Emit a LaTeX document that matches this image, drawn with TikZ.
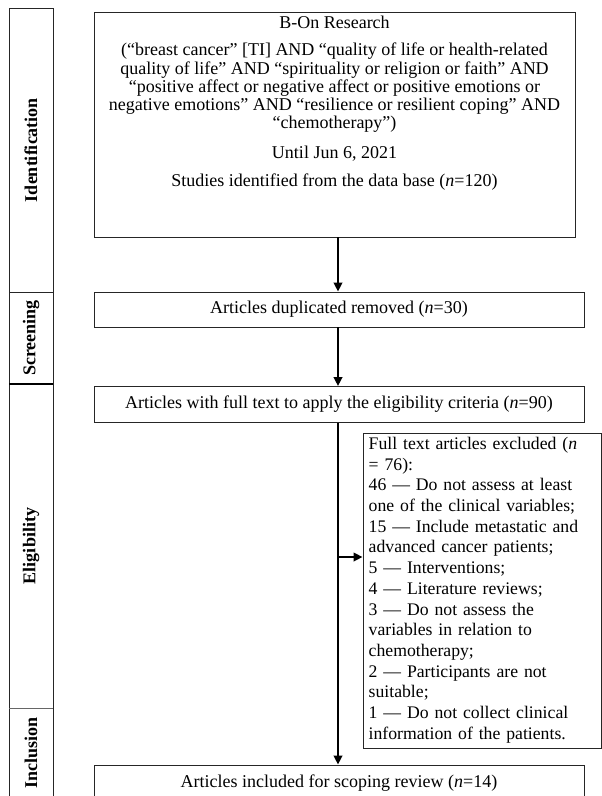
\documentclass[tikz,border=0pt]{standalone}
\usepackage{fontspec}
\setmainfont{Liberation Serif}
\usetikzlibrary{arrows.meta}
\begin{document}
\begin{tikzpicture}[x=1pt,y=-1pt,
  box/.style={draw=black!85, line width=0.9pt, inner sep=0pt},
  flow/.style={line width=2.4pt, -{Triangle[length=9pt,width=8.5pt]}},
  phase/.style={rotate=90, inner sep=0pt, font=\fontsize{18}{19}\selectfont\bfseries},
  txt/.style={inner sep=0pt, font=\fontsize{18}{18.3}\selectfont},
  extxt/.style={inner sep=0pt, anchor=north west, text width=236pt, align=left, font=\fontsize{17.7}{20.7}\selectfont},
]
\useasboundingbox (0,0) rectangle (602,796);
\clip (0,0) rectangle (602,796);
% phase column
\draw[draw=black!85, line width=0.9pt] (9,8) rectangle (53,820);
\draw[black!85, line width=0.9pt] (9,292) -- (53,292);
\draw[black, line width=1.8pt] (9,384) -- (53,384);
\draw[black!60, line width=0.9pt] (9,708) -- (53,708);
\node[phase] (pid) at (31,150) {Identification};
\node[phase] (psc) at (31,338) {Screening};
\node[phase] (pel) at (31,546) {Eligibility};
\node[phase] (pin) at (31,753) {Inclusion};
% boxes
\node[box, minimum width=481pt, minimum height=225pt] (search) at (334.5,124.5) {};
\node[txt] (t1) at (334.5,22) {B-On Research};
\node[txt, align=center] (t2) at (334.5,88) {(“breast cancer” [TI] AND “quality of life or health-related\\
quality of life” AND “spirituality or religion or faith” AND\\
“positive affect or negative affect or positive emotions or\\
negative emotions” AND “resilience or resilient coping” AND\\
“chemotherapy”)};
\node[txt] (t3) at (334.5,154) {Until Jun 6, 2021};
\node[txt] (t4) at (334.5,182) {Studies identified from the data base (\textit{n}=120)};
\node[box, minimum width=490pt, minimum height=35pt, font=\fontsize{18}{18.3}\selectfont] (dup) at (339,309.5) {Articles duplicated removed (\textit{n}=30)};
\node[box, minimum width=490pt, minimum height=36pt, font=\fontsize{18}{18.3}\selectfont] (full) at (339,404.5) {Articles with full text to apply the eligibility criteria (\textit{n}=90)};
\node[box, minimum width=238pt, minimum height=315pt] (excl) at (482,590.5) {};
\node[extxt] (et) at (368.5,437) {Full text articles excluded (\textit{n}\\
= 76):\\
46 — Do not assess at least\\
one of the clinical variables;\\
15 — Include metastatic and\\
advanced cancer patients;\\
5 — Interventions;\\
4 — Literature reviews;\\
3 — Do not assess the\\
variables in relation to\\
chemotherapy;\\
2 — Participants are not\\
suitable;\\
1 — Do not collect clinical\\
information of the patients.};
\node[box, minimum width=490pt, minimum height=36pt, font=\fontsize{18}{18.3}\selectfont] (incl) at (339,783) {Articles included for scoping review (\textit{n}=14)};
% connectors
\coordinate (ax) at (338,0);
\coordinate (br) at (338,557);
\draw[flow] (search.south -| ax) -- (dup.north -| ax);
\draw[flow] (dup.south -| ax) -- (full.north -| ax);
\draw[flow] (full.south -| ax) -- (incl.north -| ax);
\draw[flow] (br) -- (br -| excl.west);
\end{tikzpicture}
\end{document}
